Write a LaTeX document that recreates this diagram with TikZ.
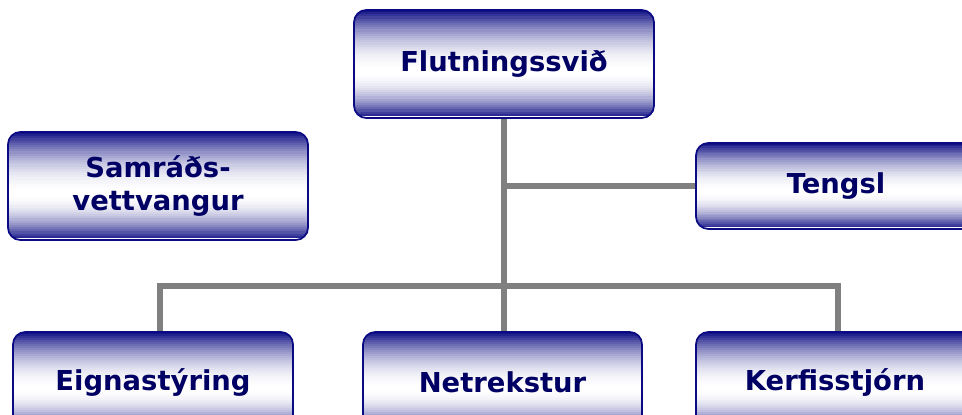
\documentclass[tikz,border=0pt]{standalone}
\usepackage{fontspec}
\usetikzlibrary{calc}
\setmainfont{DejaVu Sans}
\definecolor{navy}{RGB}{10,10,130}
\definecolor{ink}{RGB}{0,0,100}
\definecolor{wire}{RGB}{128,128,128}
\newcommand{\boxstrips}{\foreach \stript in {0,0.02,...,0.98} {%
  \pgfmathsetmacro\stripend{\stript+0.022}%
  \pgfmathsetmacro\stripdist{\stript<0.57 ? (0.56-\stript)/0.57 : (\stript+0.01-0.57)/0.43}%
  \pgfmathsetmacro\stripmix{min(100,100*\stripdist*\stripdist)}%
  \fill [sharp corners, navy!\stripmix!white]%
    ($(path picture bounding box.north west)!\stript!(path picture bounding box.south west)$) rectangle%
    ($(path picture bounding box.north east)!\stripend!(path picture bounding box.south east)$);}}
\tikzstyle{unit} = [draw=navy, line width=1pt, rounded corners=7pt, inner sep=0pt,%
  path picture={\boxstrips}, text=ink,%
  font=\fontsize{15.6}{19}\selectfont\bfseries, align=center]
\tikzstyle{link} = [draw=wire, line width=3.4pt]

\begin{document}
\begin{tikzpicture}[x=0.02cm, y=0.02cm]%
	\useasboundingbox (0,0) rectangle (962,414);%
	\clip (0,0) rectangle (962,414);%
	\node [unit, minimum width=300*0.02cm, minimum height=108*0.02cm] (flut) at (504,350) {Flutningssvi\dh};%
	\node [unit, minimum width=300*0.02cm, minimum height=108*0.02cm] (samr) at (158,228) {Samr\'a\dh s-\\vettvangur};%
	\node [unit, minimum width=280*0.02cm, minimum height=86*0.02cm] (teng) at (836,228) {Tengsl};%
	\node [unit, minimum width=280*0.02cm, minimum height=100*0.02cm] (eign) at (153,32) {Eignast\'yring};%
	\node [unit, minimum width=279*0.02cm, minimum height=100*0.02cm] (netr) at (502.5,32) {Netrekstur};%
	\node [unit, minimum width=278*0.02cm, minimum height=100*0.02cm] (kerf) at (835,32) {Kerfisstj\'orn};%
	\coordinate (lbus) at (160,128);%
	\coordinate (rbus) at (838,128);%
	\draw [link] (flut.south) -- (flut.south |- netr.north);%
	\draw [link] (flut.south |- teng.west) -- (teng.west);%
	\draw [link] (lbus |- eign.north) -- (lbus) -- (rbus) -- (rbus |- kerf.north);%
\end{tikzpicture}
\end{document}
